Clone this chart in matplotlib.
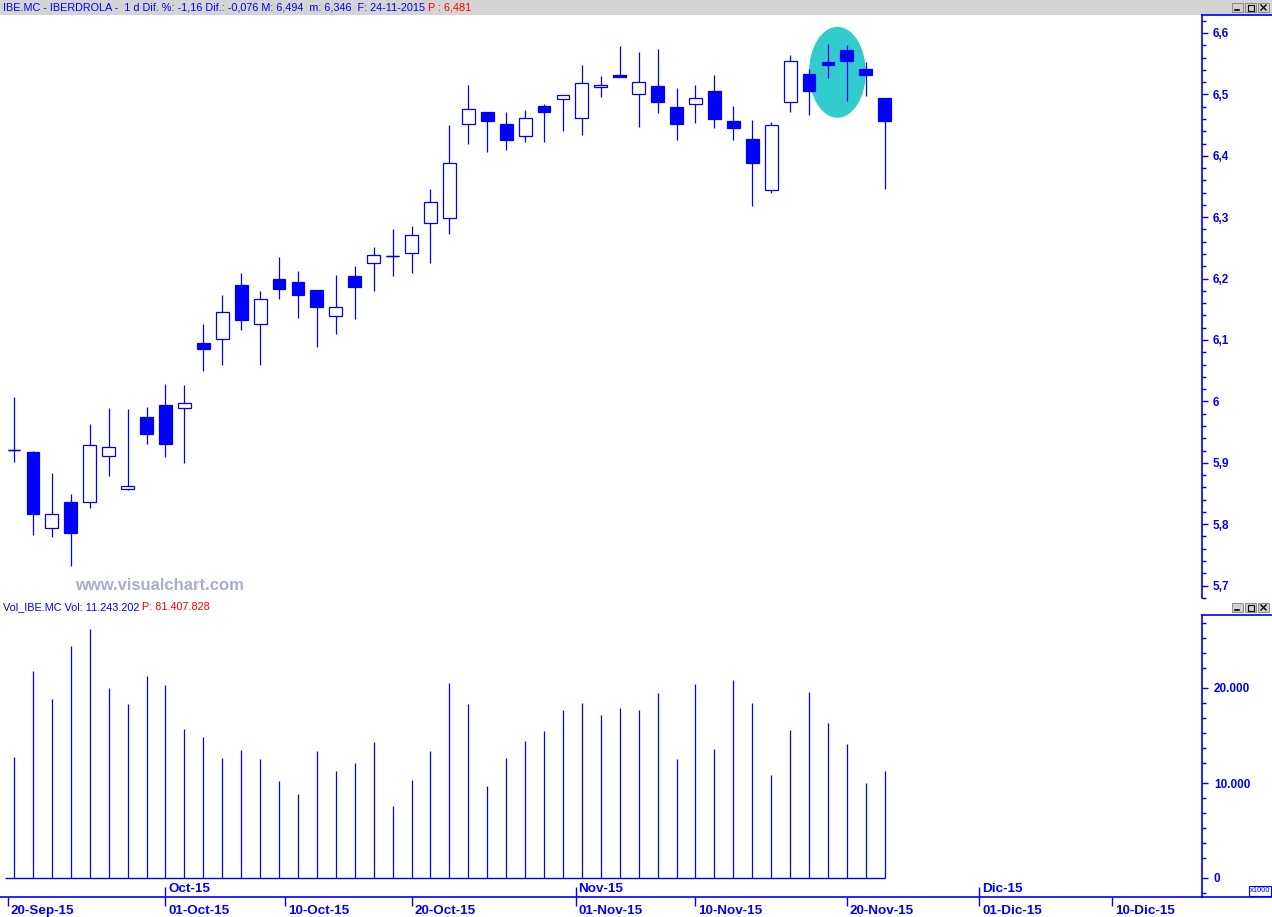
import numpy as np
import pandas as pd
import matplotlib
matplotlib.use("Agg")
import matplotlib.pyplot as plt
from matplotlib.patches import Ellipse, Rectangle
from matplotlib.lines import Line2D
import matplotlib.transforms as mtransforms

plt.rcParams['font.family'] = ['Liberation Sans', 'DejaVu Sans']

# ---------------- data ----------------
first_session = '2015-09-21'
opens = [5.921, 5.918, 5.793, 5.836, 5.836, 5.911, 5.858, 5.974, 5.994, 5.990,
         6.095, 6.101, 6.190, 6.126, 6.200, 6.194, 6.181, 6.139, 6.205, 6.225,
         6.236, 6.241, 6.290, 6.298, 6.451, 6.471, 6.451, 6.432, 6.481, 6.492,
         6.461, 6.512, 6.532, 6.500, 6.514, 6.479, 6.484, 6.506, 6.457, 6.427,
         6.345, 6.487, 6.533, 6.553, 6.572, 6.541, 6.494]
highs = [6.007, 5.920, 5.883, 5.849, 5.963, 5.990, 5.987, 5.991, 6.028, 6.027,
         6.126, 6.173, 6.209, 6.179, 6.235, 6.212, 6.181, 6.206, 6.221, 6.251,
         6.281, 6.286, 6.346, 6.450, 6.515, 6.471, 6.471, 6.474, 6.484, 6.499,
         6.548, 6.530, 6.579, 6.569, 6.574, 6.510, 6.515, 6.532, 6.481, 6.458,
         6.455, 6.564, 6.542, 6.582, 6.580, 6.553, 6.494]
lows = [5.901, 5.783, 5.779, 5.732, 5.826, 5.879, 5.856, 5.931, 5.910, 5.899,
        6.050, 6.060, 6.117, 6.060, 6.167, 6.136, 6.089, 6.109, 6.135, 6.179,
        6.205, 6.209, 6.225, 6.273, 6.420, 6.407, 6.410, 6.423, 6.423, 6.441,
        6.434, 6.495, 6.528, 6.447, 6.470, 6.425, 6.454, 6.446, 6.425, 6.319,
        6.340, 6.472, 6.467, 6.527, 6.490, 6.498, 6.346]
closes = [5.921, 5.817, 5.816, 5.785, 5.929, 5.925, 5.863, 5.947, 5.931, 5.997,
          6.086, 6.145, 6.133, 6.166, 6.183, 6.174, 6.153, 6.153, 6.187, 6.238,
          6.236, 6.271, 6.324, 6.389, 6.476, 6.456, 6.425, 6.461, 6.472, 6.499,
          6.518, 6.516, 6.529, 6.520, 6.488, 6.452, 6.494, 6.460, 6.446, 6.389,
          6.450, 6.554, 6.506, 6.548, 6.555, 6.532, 6.456]
volumes_k = [12737, 21789, 18842, 24421, 26211, 20000, 18316, 21263, 20316, 15684,
             14842, 12632, 13474, 12526, 10211, 8842, 13368, 11263, 12105, 14316,
             7579, 10316, 13368, 20526, 18316, 9684, 12632, 14421, 15474, 17684,
             18421, 17158, 17895, 17684, 19474, 12526, 20421, 13579, 20842, 18421,
             10842, 15579, 19579, 16316, 14105, 10000, 11243]

price_ticks = [5.7, 5.8, 5.9, 6.0, 6.1, 6.2, 6.3, 6.4, 6.5, 6.6]
price_labels = ['5,7', '5,8', '5,9', '6', '6,1', '6,2', '6,3', '6,4', '6,5', '6,6']
vol_ticks = [0, 10000, 20000]
vol_labels = ['0', '10.000', '20.000']
day_dates = ['2015-09-20', '2015-10-01', '2015-10-10', '2015-10-20', '2015-11-01',
             '2015-11-10', '2015-11-20', '2015-12-01', '2015-12-10']
day_labels = ['20-Sep-15', '01-Oct-15', '10-Oct-15', '20-Oct-15', '01-Nov-15',
              '10-Nov-15', '20-Nov-15', '01-Dic-15', '10-Dic-15']
month_dates = ['2015-10-01', '2015-11-01', '2015-12-01']
month_labels = ['Oct-15', 'Nov-15', 'Dic-15']

header_blue = "IBE.MC - IBERDROLA -  1 d Dif. %: -1,16 Dif.: -0,076 M: 6,494  m: 6,346  F: 24-11-2015 "
header_red = "P : 6,481"
vol_header_blue = "Vol_IBE.MC Vol: 11.243.202 "
vol_header_red = "P: 81.407.828"
watermark = "www.visualchart.com"

# highlighted region (ellipse) around sessions 43-44
hl_center = (43.5, 6.536)
hl_size = (3.0, 0.148)

# ---------------- layout ----------------
W, H = 1272, 917
BLUE = '#0000FF'
fig = plt.figure(figsize=(W / 100, H / 100), dpi=100)
fig.patch.set_facecolor('white')


def fx(px):
    return px / W


def fy(py):
    return 1 - py / H


n = len(opens)
idx = np.arange(n)

# trading-day index of calendar dates (interpolated between sessions)
sessions = pd.bdate_range('2015-09-14', '2016-01-15')
ref = list(sessions).index(pd.Timestamp(first_session))
s_ord = np.array([d.toordinal() for d in sessions])
s_idx = np.arange(len(sessions)) - ref


def date_pos(d):
    return float(np.interp(pd.Timestamp(d).toordinal(), s_ord, s_idx))


XL = (-0.74, 62.76)
P_TOP, P_BOT = 15, 598
V_TOP, V_BOT = 615, 897
AX_R = 1202
LABEL_FS = 8.5
DATE_FS = 9.7
HEAD_FS = 7.8

# header bar
fig.add_artist(Rectangle((0, fy(15)), 1, 15 / H, transform=fig.transFigure,
                         facecolor='#D4D4D4', edgecolor='none', zorder=0))

# ---------------- price panel ----------------
ax_p = fig.add_axes([0, fy(P_BOT), fx(AX_R), (P_BOT - P_TOP) / H])
for s in ['left', 'top', 'bottom']:
    ax_p.spines[s].set_visible(False)
ax_p.spines['right'].set_color(BLUE)
ax_p.spines['right'].set_linewidth(1.2)
ax_p.yaxis.tick_right()
ax_p.set_xticks([])
ax_p.set_yticks(price_ticks)
ax_p.set_yticklabels(price_labels)
ax_p.set_yticks(np.arange(5.68, 6.63, 0.02), minor=True)
ax_p.tick_params(axis='y', which='major', colors=BLUE, length=4, width=1, pad=4,
                 labelsize=LABEL_FS)
ax_p.tick_params(axis='y', which='minor', colors=BLUE, length=2.6, width=1)
for t in ax_p.get_yticklabels():
    t.set_fontweight('bold')

ax_p.add_patch(Ellipse(hl_center, hl_size[0], hl_size[1], facecolor='#33CCCC',
                       edgecolor='none', zorder=1))

o = np.array(opens)
c = np.array(closes)
bear = c < o
faces = [BLUE if b else 'white' for b in bear]
ax_p.vlines(idx, lows, highs, color=BLUE, lw=0.9, zorder=2)
bw = 0.68
ax_p.bar(idx, np.abs(c - o), bottom=np.minimum(o, c), width=bw, color=faces,
         edgecolor=BLUE, linewidth=0.9, zorder=3)
doji = np.abs(c - o) < 0.002
ax_p.hlines(c[doji], idx[doji] - bw / 2, idx[doji] + bw / 2, color=BLUE, lw=1.0, zorder=4)
ax_p.set_xlim(*XL)
ax_p.set_ylim(6.6 - (P_BOT - 33) / 614, 6.6 + (33 - P_TOP) / 614)

fig.text(fx(75), fy(585), watermark, fontsize=12.0, fontweight='bold',
         color='#A8ADCC', va='center', ha='left')

# ---------------- volume panel ----------------
ax_v = fig.add_axes([0, fy(V_BOT), fx(AX_R), (V_BOT - V_TOP) / H])
k = 10000 / 95.0
for s in ['left', 'top']:
    ax_v.spines[s].set_visible(False)
for s in ['right', 'bottom']:
    ax_v.spines[s].set_color(BLUE)
    ax_v.spines[s].set_linewidth(1.2)
ax_v.yaxis.tick_right()
ax_v.set_yticks(vol_ticks)
ax_v.set_yticklabels(vol_labels)
minor_v = [m - 15 * k * j for m in [0, 10000, 20000, 30000] for j in range(1, 6)]
ax_v.set_yticks(minor_v, minor=True)
ax_v.tick_params(axis='y', which='major', colors=BLUE, length=4.5, width=1, pad=4,
                 labelsize=LABEL_FS)
ax_v.tick_params(axis='y', which='minor', colors=BLUE, length=2.7, width=1)
for t in ax_v.get_yticklabels():
    t.set_fontweight('bold')

ax_v.vlines(idx, 0, volumes_k, color=BLUE, lw=0.9)
ax_v.hlines(0, -0.5, n - 1, color=BLUE, lw=1.0)

# date axis
day_pos = [date_pos(d) for d in day_dates]
month_pos = [date_pos(d) for d in month_dates]
ax_v.set_xticks(day_pos)
ax_v.set_xticklabels([])
ax_v.tick_params(axis='x', which='major', colors=BLUE, length=6.5, width=1, direction='out')
ax_v.set_xlim(*XL)
ax_v.set_ylim(-(V_BOT - 878) * k, (878 - V_TOP) * k)
xtr = ax_v.get_xaxis_transform()
span = V_BOT - V_TOP
ax_v.vlines(month_pos, 0, 10 / span, transform=xtr, color=BLUE, lw=1.0, clip_on=False)
lab_tr = mtransforms.offset_copy(xtr, fig=fig, x=3, y=0, units='dots')
for p, lab in zip(day_pos, day_labels):
    ax_v.text(p, -(911 - V_BOT) / span, lab, transform=lab_tr, ha='left', va='center',
              fontsize=DATE_FS, fontweight='bold', color=BLUE, clip_on=False)
for p, lab in zip(month_pos, month_labels):
    ax_v.text(p, (V_BOT - 889) / span, lab, transform=lab_tr, ha='left', va='center',
              fontsize=DATE_FS, fontweight='bold', color=BLUE, clip_on=False)

# lines extending right of the axes
for y in [P_TOP, V_TOP, V_BOT]:
    fig.add_artist(Line2D([fx(AX_R), 1], [fy(y), fy(y)], transform=fig.transFigure,
                          color=BLUE, lw=1.2))

# x1000 box
fig.add_artist(Rectangle((fx(1249), fy(896)), fx(22), 10 / H, transform=fig.transFigure,
                         facecolor='white', edgecolor=BLUE, lw=0.8))
fig.text(fx(1260), fy(891), 'x1000', fontsize=5.5, color=BLUE, ha='center', va='center')

# headers
t1 = fig.text(fx(3), fy(8), header_blue, fontsize=HEAD_FS, color=BLUE, va='center', ha='left')
ax_p.annotate(header_red, xy=(1, 0.5), xycoords=t1, fontsize=HEAD_FS, color='red',
              va='center', ha='left', annotation_clip=False)
t2 = fig.text(fx(3), fy(607), vol_header_blue, fontsize=HEAD_FS, color=BLUE, va='center', ha='left')
ax_p.annotate(vol_header_red, xy=(1, 0.5), xycoords=t2, fontsize=HEAD_FS, color='red',
              va='center', ha='left', annotation_clip=False)


# window buttons
def buttons(ytop):
    for j, x0 in enumerate([1232, 1245, 1258]):
        fig.add_artist(Rectangle((fx(x0), fy(ytop + 9)), fx(11), 9 / H,
                                 transform=fig.transFigure, facecolor='#D4D0C8',
                                 edgecolor='#808080', lw=0.6))
        if j == 0:
            fig.add_artist(Line2D([fx(x0 + 3), fx(x0 + 7)], [fy(ytop + 7), fy(ytop + 7)],
                                  transform=fig.transFigure, color='black', lw=1.2))
        elif j == 1:
            fig.add_artist(Rectangle((fx(x0 + 2.5), fy(ytop + 7.5)), fx(6), 5.5 / H,
                                     transform=fig.transFigure, facecolor='none',
                                     edgecolor='black', lw=0.8))
        else:
            fig.add_artist(Line2D([fx(x0 + 3), fx(x0 + 8)], [fy(ytop + 2), fy(ytop + 7)],
                                  transform=fig.transFigure, color='black', lw=1.0))
            fig.add_artist(Line2D([fx(x0 + 3), fx(x0 + 8)], [fy(ytop + 7), fy(ytop + 2)],
                                  transform=fig.transFigure, color='black', lw=1.0))


buttons(3)
buttons(603)

fig.savefig('out.png', dpi=100, facecolor='white')
